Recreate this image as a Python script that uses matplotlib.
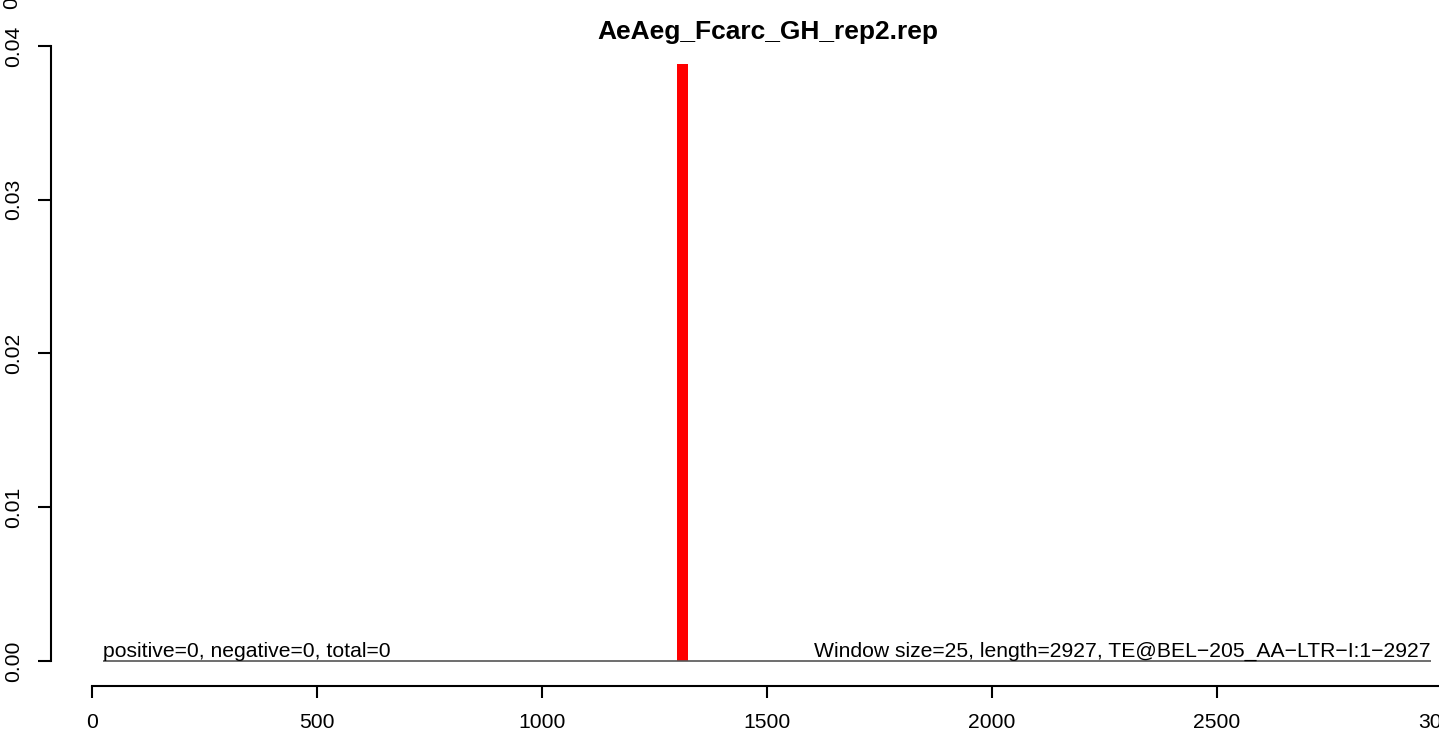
import matplotlib
matplotlib.use("Agg")
import matplotlib.pyplot as plt

plt.rcParams['font.family'] = ['Liberation Sans', 'DejaVu Sans']

# data
title = "AeAeg_Fcarc_GH_rep2.rep"
bar_start = [1300]
bar_width = 25
bar_height = [0.0388]
base_from, base_to = 25, 2975
xticks = [0, 500, 1000, 1500, 2000, 2500, 3000]
yticks = [0.00, 0.01, 0.02, 0.03, 0.04]
left_note = "positive=0, negative=0, total=0"
right_note = "Window size=25, length=2927, TE@BEL\u2212205_AA\u2212LTR\u2212I:1\u22122927"

W, H = 1439, 736
fs = 15.2
fig = plt.figure(figsize=(W/100, H/100), dpi=100)

# plot region in pixels
px_left, px_right = 51, 1481
px_top, px_bot = 36, 680
ax = fig.add_axes([px_left/W, 1-px_bot/H, (px_right-px_left)/W, (px_bot-px_top)/H])

# pixel scale: x 0 -> 92, 500 -> 317 ; y 0 -> 661, 0.04 -> 46
xs = 0.45
ys = 615/0.04
ax.set_xlim((px_left-92)/xs, (px_right-92)/xs)
ax.set_ylim(-(px_bot-661)/ys, 0.04+(46-px_top)/ys)

ax.bar(bar_start, bar_height, width=bar_width, align='edge', color='#ff0000', linewidth=0)
ax.hlines(0, base_from, base_to, color='#555555', lw=1.2)

ax.text(base_from, 0.0, left_note, ha='left', va='bottom', fontsize=fs)
ax.text(base_to, 0.0, right_note, ha='right', va='bottom', fontsize=fs)

for s in ['top', 'right']:
    ax.spines[s].set_visible(False)
ax.spines['left'].set_bounds(0, 0.04)
ax.spines['bottom'].set_bounds(0, 3000)
ax.spines['bottom'].set_position(('outward', 6*0.72))
for s in ['left', 'bottom']:
    ax.spines[s].set_linewidth(1.5)

ax.set_xticks(xticks)
ax.set_xticklabels([str(t) for t in xticks])
ax.set_yticks(yticks)
ax.set_yticklabels(["%.2f" % t for t in yticks], rotation=90, va='center')
ax.tick_params(axis='x', length=8.6, width=1.5, pad=10.5, labelsize=fs)
ax.tick_params(axis='y', length=9.4, width=1.5, pad=10.5, labelsize=fs)

fig.text(768/W, 1-32/H, title, ha='center', va='center', fontsize=fs*1.25, fontweight='bold')
fig.text(12/W, 1-3/H, "0", ha='center', va='center', rotation=90, fontsize=fs)

fig.savefig("out.png", dpi=100)
